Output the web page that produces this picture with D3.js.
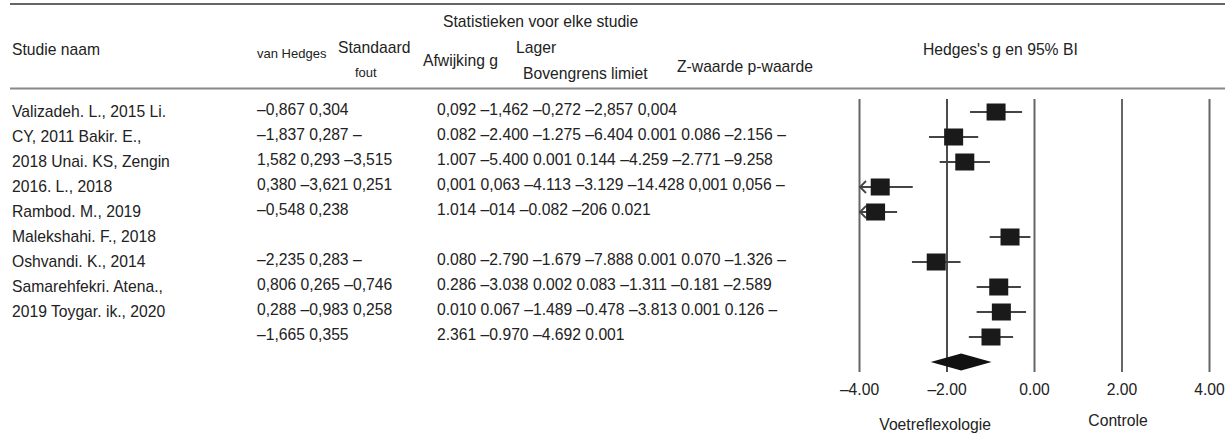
<!DOCTYPE html>
<html>
<head>
<meta charset="utf-8">
<script src="https://cdn.jsdelivr.net/npm/d3@7"></script>
<style>
  body { margin: 0; background: #fff; }
  svg text { font-family: "Liberation Sans", Arial, sans-serif; fill: #222; }
</style>
</head>
<body>
<div id="forest"></div>
<script>
// column headers
var headerLabels = ["Statistieken voor elke studie", "Studie naam", "van Hedges", "Standaard", "fout",
    "Afwijking g", "Lager", "Bovengrens limiet", "Z-waarde p-waarde", "Hedges's g en 95% BI"];

// text as it stands in the table (row index, text)
var nameLines = ["Valizadeh. L., 2015 Li.", "CY, 2011 Bakir. E.,", "2018 Unai. KS, Zengin", "2016. L., 2018",
    "Rambod. M., 2019", "Malekshahi. F., 2018", "Oshvandi. K., 2014", "Samarehfekri. Atena.,", "2019 Toygar. ik., 2020"];
var colA = ["–0,867 0,304", "–1,837 0,287 –", "1,582 0,293 –3,515", "0,380 –3,621 0,251", "–0,548 0,238", "",
    "–2,235 0,283 –", "0,806 0,265 –0,746", "0,288 –0,983 0,258", "–1,665 0,355"];
var colB = ["0,092 –1,462 –0,272 –2,857 0,004", "0.082 –2.400 –1.275 –6.404 0.001 0.086 –2.156 –",
    "1.007 –5.400 0.001 0.144 –4.259 –2.771 –9.258", "0,001 0,063 –4.113 –3.129 –14.428 0,001 0,056 –",
    "1.014 –014 –0.082 –206 0.021", "", "0.080 –2.790 –1.679 –7.888 0.001 0.070 –1.326 –",
    "0.286 –3.038 0.002 0.083 –1.311 –0.181 –2.589", "0.010 0.067 –1.489 –0.478 –3.813 0.001 0.126 –",
    "2.361 –0.970 –4.692 0.001"];

// forest plot values per study
var hedgesG = [-0.867, -1.837, -1.582, -3.515, -3.621, -0.548, -2.235, -0.806, -0.746, -0.983];
var lowerCI = [-1.462, -2.400, -2.156, -4.259, -4.113, -1.014, -2.790, -1.311, -1.311, -1.489];
var upperCI = [-0.272, -1.275, -1.007, -2.771, -3.129, -0.082, -1.679, -0.300, -0.181, -0.478];
var summary = [-1.665, -2.361, -0.970]; // g, lower, upper

var xTicks = [-4, -2, 0, 2, 4];
var sideLabels = ["Voetreflexologie", "Controle"];
var sideValues = [-2.26, 1.92];

// layout
var W = 1225, H = 434;
var headerPos = [[443, 27, 15.7], [12, 55, 15.7], [257, 58, 13], [338, 53, 15.7], [355, 77, 13],
    [423, 66, 15.7], [516, 53, 15.7], [523, 79, 15.7], [677, 72, 15.7], [923, 55, 15.7]];
var plotTop = 99, plotBottom = 372;
var nameX = 12, colAX = 257, colBX = 437;

var svg = d3.select("#forest").append("svg")
    .attr("width", W)
    .attr("height", H);

var x = d3.scaleLinear().domain([-4, 4]).range([859, 1209]);
var y = d3.scaleLinear().domain([0, 10]).range([112, 362]);

// rules
svg.append("line").attr("x1", 10).attr("x2", W).attr("y1", 4).attr("y2", 4)
    .attr("stroke", "#666").attr("stroke-width", 2);
svg.append("line").attr("x1", 10).attr("x2", W).attr("y1", 88.5).attr("y2", 88.5)
    .attr("stroke", "#888").attr("stroke-width", 2);

svg.selectAll(".hdr")
    .data(headerLabels)
    .enter()
    .append("text")
    .attr("class", "hdr")
    .attr("x", (d, i) => headerPos[i][0])
    .attr("y", (d, i) => headerPos[i][1])
    .style("font-size", (d, i) => headerPos[i][2] + "px")
    .text(d => d);

var txt = svg.append("g").style("font-size", "15.7px");
txt.selectAll(".nm").data(nameLines).enter().append("text")
    .attr("class", "nm")
    .attr("x", nameX)
    .attr("y", (d, i) => y(i) + 5)
    .text(d => d);
txt.selectAll(".ca").data(colA).enter().append("text")
    .attr("class", "ca")
    .attr("x", colAX)
    .attr("y", (d, i) => y(i) + 3)
    .text(d => d);
txt.selectAll(".cb").data(colB).enter().append("text")
    .attr("class", "cb")
    .attr("x", colBX)
    .attr("y", (d, i) => y(i) + 3)
    .text(d => d);

// axis with full height grid lines
var axis = d3.axisBottom(x)
    .tickValues(xTicks)
    .tickSizeInner(-(plotBottom - plotTop))
    .tickSizeOuter(0)
    .tickPadding(12)
    .tickFormat(d => d3.format(".2f")(d).replace("−", "–").replace("-", "–"));

var ax = svg.append("g")
    .attr("transform", `translate(0,${plotBottom})`)
    .call(axis);
ax.select(".domain").remove();
ax.selectAll(".tick line")
    .attr("stroke", d => d === -2 ? "#111" : "#666")
    .attr("stroke-width", d => d === -2 ? 1.5 : 2);
ax.selectAll(".tick text")
    .style("font-size", "15.7px")
    .style("font-family", "'Liberation Sans', Arial, sans-serif")
    .attr("fill", "#222");

// studies
var rows = hedgesG.map((g, i) => ({ g: g, lo: lowerCI[i], hi: upperCI[i], i: i }));
var study = svg.append("g");
study.selectAll(".ci").data(rows).enter().append("line")
    .attr("x1", d => x(Math.max(d.lo, -4)))
    .attr("x2", d => x(Math.min(d.hi, 4)))
    .attr("y1", d => y(d.i))
    .attr("y2", d => y(d.i))
    .attr("stroke", "#444")
    .attr("stroke-width", 2);

// arrows for clipped intervals
study.selectAll(".arr").data(rows.filter(d => d.lo < -4)).enter().append("path")
    .attr("d", d => {
        var x0 = x(-4) + 1, yy = y(d.i);
        return `M${x0 + 6},${yy - 6}L${x0},${yy}L${x0 + 6},${yy + 6}`;
    })
    .attr("fill", "none")
    .attr("stroke", "#444")
    .attr("stroke-width", 1.8);

study.selectAll(".sq").data(rows).enter().append("rect")
    .attr("x", d => x(d.g) - 9.5)
    .attr("y", d => y(d.i) - 8.5)
    .attr("width", 19)
    .attr("height", 17)
    .attr("fill", "#1a1a1a");

// pooled diamond
var yd = y(10);
svg.append("path")
    .attr("d", `M${x(summary[1])},${yd}L${x(summary[0])},${yd - 8.5}L${x(summary[2])},${yd}L${x(summary[0])},${yd + 8.5}Z`)
    .attr("fill", "#111");

svg.selectAll(".side").data(sideLabels).enter().append("text")
    .attr("class", "side")
    .attr("x", (d, i) => x(sideValues[i]))
    .attr("y", (d, i) => i === 0 ? 430 : 426)
    .attr("text-anchor", "middle")
    .style("font-size", "15.7px")
    .text(d => d);
</script>
</body>
</html>
